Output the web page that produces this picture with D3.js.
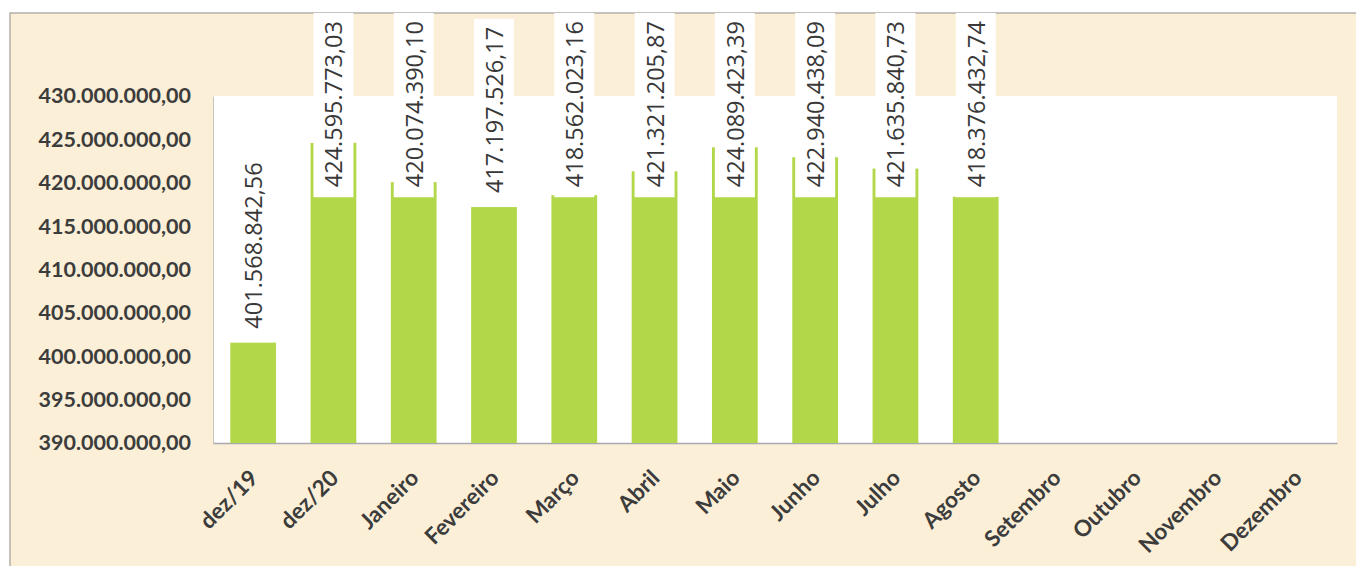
<!DOCTYPE html>
<html>
<head>
<meta charset="utf-8">
<script src="https://cdnjs.cloudflare.com/ajax/libs/d3/7.8.5/d3.min.js"></script>
<style>
  body { margin: 0; background: #fff; }
  svg { display: block; }
  text { font-family: Lato, "Open Sans", sans-serif; }
</style>
</head>
<body>
<div class="js-chart"></div>
<script>
// data
var categories = ['dez/19', 'dez/20', 'Janeiro', 'Fevereiro', 'Março', 'Abril', 'Maio',
  'Junho', 'Julho', 'Agosto', 'Setembro', 'Outubro', 'Novembro', 'Dezembro'];
var values = [401568842.56, 424595773.03, 420074390.10, 417197526.17, 418562023.16,
  421321205.87, 424089423.39, 422940438.09, 421635840.73, 418376432.74, null, null, null, null];
var yTicks = [390000000, 395000000, 400000000, 405000000, 410000000, 415000000,
  420000000, 425000000, 430000000];

// pt-BR number format
var br = d3.formatLocale({decimal: ',', thousands: '.', grouping: [3], currency: ['', '']});
var fmt = br.format(',.2f');

var W = 1356, H = 566;
var plot = {left: 213, right: 1337, top: 96, bottom: 443};
var frameTop = 13, frameLeft = 10;

var svg = d3.select('.js-chart').append('svg')
  .attr('width', W)
  .attr('height', H);

// outer chart area
svg.append('rect')
  .attr('x', frameLeft).attr('y', frameTop)
  .attr('width', W - frameLeft).attr('height', H - frameTop)
  .attr('fill', '#fbefd7');
svg.append('path')
  .attr('d', 'M' + frameLeft + ',' + H + 'V' + frameTop + 'H' + W)
  .attr('fill', 'none')
  .attr('stroke', '#b4b0aa')
  .attr('stroke-width', 1.5);

// plot area
svg.append('rect')
  .attr('x', plot.left).attr('y', plot.top)
  .attr('width', plot.right - plot.left).attr('height', plot.bottom - plot.top)
  .attr('fill', '#ffffff');

var x = d3.scaleBand()
  .domain(categories)
  .range([plot.left, plot.right])
  .paddingInner(0.43)
  .paddingOuter(0.215);

var y = d3.scaleLinear()
  .domain([390000000, 430000000])
  .range([plot.bottom, plot.top]);

// y axis
var yAxis = d3.axisLeft(y)
  .tickValues(yTicks)
  .tickFormat(fmt)
  .tickSize(0)
  .tickPadding(22);

var gy = svg.append('g')
  .attr('transform', 'translate(' + plot.left + ',0)')
  .call(yAxis);
gy.select('.domain').attr('stroke', '#c4c4c4').attr('stroke-width', 1);
gy.selectAll('text')
  .attr('fill', '#3c3c3c')
  .style('font-size', '21.5px')
  .style('font-weight', 'bold');

// x axis
var xAxis = d3.axisBottom(x).tickSize(0).tickPadding(0);
var gx = svg.append('g')
  .attr('transform', 'translate(0,' + plot.bottom + ')')
  .call(xAxis);
gx.select('.domain').attr('stroke', '#a9a9b0').attr('stroke-width', 1.5);
gx.selectAll('.tick text')
  .attr('fill', '#3c3c3c')
  .style('font-size', '22.5px')
  .style('font-weight', 'bold')
  .attr('text-anchor', 'end')
  .attr('x', 0).attr('y', 0).attr('dy', '0.72em')
  .attr('transform', 'translate(-5,25) rotate(-45)');

// bars
var data = categories.map(function(c, i) { return {cat: c, value: values[i]}; })
  .filter(function(d) { return d.value !== null; });

svg.append('g').selectAll('rect')
  .data(data)
  .enter()
  .append('rect')
  .attr('x', function(d) { return x(d.cat); })
  .attr('y', function(d) { return y(d.value); })
  .attr('width', x.bandwidth())
  .attr('height', function(d) { return y(390000000) - y(d.value); })
  .attr('fill', '#b2d84a');

// data labels with white boxes, pushed down when they hit the top of the frame
var labels = svg.append('g').selectAll('g')
  .data(data)
  .enter()
  .append('g');

var boxW = 40;
labels.each(function(d) {
  var g = d3.select(this);
  var cx = x(d.cat) + x.bandwidth() / 2;
  var box = g.append('rect')
    .attr('fill', '#ffffff')
    .attr('width', boxW)
    .attr('x', cx - boxW / 2);
  var t = g.append('text')
    .text(fmt(d.value))
    .attr('fill', '#383838')
    .style('font-family', '"Open Sans", sans-serif')
    .style('font-size', '23.5px')
    .attr('text-anchor', 'start');
  var len = t.node().getComputedTextLength();
  var boxH = len + 18;
  var bottom = y(d.value) - 4;
  var top = bottom - boxH;
  if (top < frameTop) {
    top = frameTop;
    bottom = top + boxH;
  }
  box.attr('y', top).attr('height', boxH);
  t.attr('transform', 'translate(' + (cx + 9) + ',' + (bottom - 10) + ') rotate(-90)');
});
</script>
</body>
</html>
